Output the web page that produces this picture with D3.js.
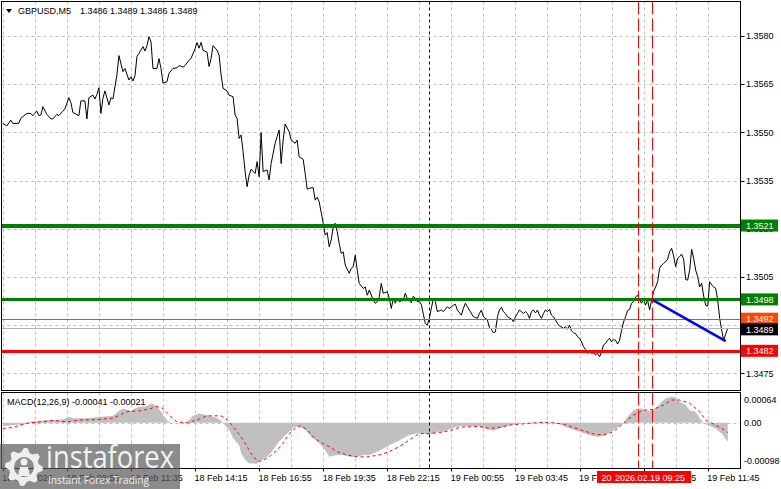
<!DOCTYPE html>
<html><head><meta charset="utf-8">
<script src="https://cdn.jsdelivr.net/npm/d3@7"></script>
<style>
body{margin:0;background:#fff}
svg{display:block}
text{font-family:"Liberation Sans",Arial,sans-serif;font-size:9px}
</style>
</head><body>
<svg id="c" width="781" height="489"></svg>
<script>
// ---------- DATA ----------
const symbolTitle = "GBPUSD,M5";
const ohlcText = "1.3486 1.3489 1.3486 1.3489";
const macdTitle = "MACD(12,26,9) -0.00041 -0.00021";

// bar index (5-minute bars from chart start) and close price
const priceBars = [0,2,4,5,8,9,12,14,15,16,17,18,19,20,22,24,25,27,28,30,31,33,34,35,38,39,41,42,43,45,46,47,48,49,50,51,53,54,55,57,58,60,61,63,64,65,66,67,68,70,71,72,73,74,75,77,78,79,80,82,83,85,87,88,90,91,93,94,96,97,98,99,100,102,103,104,105,107,108,109,110,112,113,115,116,117,118,119,120,121,122,123,
124,126,127,128,129,130,132,133,134,136,137,138,139,140,141,143,144,146,147,148,150,151,152,153,155,156,157,158,160,161,162,163,164,165,166,167,168,169,170,171,173,174,175,176,177,178,180,181,182,183,185,186,187,188,189,190,192,193,194,195,196,197,198,200,201,202,204,205,206,207,208,209,210,211,212,213,214,215,216,217,219,220,222,223,225,226,227,229,230,231,232,233,235,236,237,238,239,240,242,243,
244,245,246,247,248,249,250,251,252,254,255,256,257,258,260,261,262,263,264,265,266,267,268,269,270,271,272,273,274,275,276,277,278,280,281,282,283,284,285,286,287,288,289,290,291,292,293,294,295,296,297,298,299,300,301,302,303,304,305,306,307,308,309,310,311,312,313,314,315,316,317,318,319,320,321,322,323,324,325,326,327,328,329,330,331,332,333,334,335,336,337,338,339,340,341,342,343,344,345,346,347,348,349,350,351,352,353,354,355,356,357,358,359,360,361,362];
const priceCloses = [1.35528,1.35520,1.35538,1.35528,1.35528,1.35544,1.35559,1.35559,1.35552,1.35559,1.35566,1.35552,1.35554,1.35580,1.35556,1.35542,1.35542,1.35556,1.35552,1.35566,1.35573,1.35608,1.35593,1.35562,1.35552,1.35598,1.35598,1.35542,1.35608,1.35616,1.35604,1.35618,1.35639,1.35559,1.35606,1.35629,1.35585,1.35608,1.35604,1.35679,1.35739,1.35689,1.35699,1.35663,1.35673,1.35660,1.35676,1.35736,1.35746,1.35767,1.35753,1.35770,1.35798,1.35782,1.35699,1.35699,1.35730,1.35699,1.35653,1.35658,1.35684,1.35699,1.35701,1.35708,1.35703,1.35708,1.35725,1.35730,1.35760,1.35780,1.35762,1.35780,1.35756,1.35749,1.35705,1.35730,1.35770,1.35756,1.35741,1.35679,1.35637,1.35629,1.35616,1.35611,1.35554,1.35544,1.35481,1.35492,1.35440,1.35378,1.35331,1.35367,
1.35385,1.35372,1.35409,1.35362,1.35499,1.35378,1.35383,1.35352,1.35403,1.35466,1.35487,1.35507,1.35403,1.35476,1.35526,1.35502,1.35476,1.35466,1.35476,1.35424,1.35416,1.35372,1.35323,1.35326,1.35328,1.35289,1.35298,1.35284,1.35217,1.35180,1.35188,1.35144,1.35165,1.35206,1.35217,1.35191,1.35154,1.35123,1.35128,1.35087,1.35061,1.35077,1.35082,1.35118,1.35071,1.35030,1.35014,1.35019,1.34993,1.35009,1.34978,1.34968,1.34973,1.34988,1.35030,1.34999,1.35004,1.34983,1.34952,1.34983,1.34968,1.34983,1.34973,1.34978,1.34999,1.34983,1.34970,1.34990,1.34983,1.34973,1.34973,1.34965,1.34934,1.34905,1.34900,1.34921,1.34952,1.34983,1.34973,1.34942,1.34947,1.34942,1.34957,1.34952,1.34962,1.34965,1.34947,1.34931,1.34952,1.34968,1.34957,1.34947,1.34926,1.34924,1.34921,1.34936,1.34947,1.34926,1.34916,1.34893,
1.34887,1.34876,1.34879,1.34926,1.34947,1.34955,1.34942,1.34936,1.34926,1.34919,1.34910,1.34926,1.34936,1.34947,1.34936,1.34942,1.34936,1.34921,1.34942,1.34947,1.34938,1.34947,1.34931,1.34921,1.34936,1.34947,1.34942,1.34949,1.34931,1.34926,1.34916,1.34905,1.34897,1.34890,1.34895,1.34887,1.34900,1.34882,1.34876,1.34874,1.34864,1.34859,1.34848,1.34833,1.34824,1.34812,1.34820,1.34812,1.34814,1.34807,1.34812,1.34801,1.34817,1.34838,1.34843,1.34853,1.34859,1.34848,1.34855,1.34853,1.34841,1.34853,1.34884,1.34910,1.34926,1.34945,1.34949,1.34968,1.34973,1.34988,1.34993,1.34978,1.34968,1.34980,1.34962,1.34978,1.34947,1.34978,1.35004,1.35019,1.35035,1.35077,1.35087,1.35092,1.35097,1.35105,1.35128,1.35139,1.35115,1.35082,1.35108,1.35113,1.35121,1.35105,1.35042,1.35040,1.35071,1.35136,1.35108,1.35071,1.35051,1.35019,1.35030,1.34990,1.34962,1.34959,1.35035,1.35025,1.35019,1.35014,1.34978,1.34921,1.34884,1.34853,1.34872,1.34890];

// MACD main (histogram) samples
const histBars = [0,5,11,13,19,24,30,33,35,42,49,55,58,60,64,67,72,74,77,79,82,84,87,92,95,98,102,106,109,110,113,115,118,119,121,123,127,128,132,135,138,142,145,148,151,154,158,161,163,167,170,173,177,180,183,187,190,193,197,200,203,207,210,213,217,220,223,227,232,237,241,245,248,253,257,260,267,273,278,283,288,293,297,300,303,307,310,312,315,317,319,322,324,327,329,331,334,336,338,341,343,346,348,350,353,356,359,362];
const histValues = [-0.00007,-0.00005,-0.00003,0.00002,0.00005,0.00006,0.00007,0.00013,0.00010,0.00010,0.00013,0.00015,0.00026,0.00031,0.00026,0.00033,0.00036,0.00042,0.00036,0.00024,0.00005,-0.00001,0.00000,0.00002,0.00015,0.00020,0.00017,0.00012,0.00005,-0.00001,-0.00015,-0.00033,-0.00048,-0.00065,-0.00080,-0.00087,-0.00088,-0.00083,-0.00073,-0.00058,-0.00040,-0.00023,-0.00010,-0.00007,-0.00015,-0.00030,-0.00044,-0.00058,-0.00073,-0.00069,-0.00069,-0.00073,-0.00073,-0.00069,-0.00069,-0.00062,-0.00055,-0.00048,-0.00040,-0.00033,-0.00026,-0.00023,-0.00023,-0.00026,-0.00019,-0.00019,-0.00014,-0.00008,-0.00007,-0.00007,-0.00012,-0.00017,-0.00012,-0.00005,-0.00003,0.00000,0.00001,0.00000,-0.00003,-0.00012,-0.00019,-0.00026,-0.00030,-0.00028,-0.00021,-0.00010,-0.00001,0.00013,0.00027,0.00031,0.00031,0.00026,0.00026,0.00035,0.00045,0.00052,0.00056,0.00055,0.00045,0.00038,0.00027,0.00024,0.00010,-0.00001,-0.00007,-0.00012,-0.00023,-0.00041];

// MACD signal samples
const sigBars = [0,5,12,19,25,32,39,47,55,62,69,74,77,80,84,87,92,97,102,109,112,115,119,122,125,128,130,133,137,140,143,147,149,152,155,158,163,167,172,177,182,188,193,198,203,208,213,218,223,228,233,238,243,248,253,258,263,270,275,280,285,290,295,300,305,310,315,320,325,330,334,338,343,348,351,356,361,362];
const sigValues = [-0.00012,-0.00010,-0.00001,0.00002,0.00005,0.00002,0.00006,0.00007,0.00010,0.00024,0.00026,0.00031,0.00035,0.00031,0.00013,0.00002,0.00000,0.00006,0.00015,0.00015,0.00007,-0.00008,-0.00030,-0.00051,-0.00073,-0.00083,-0.00080,-0.00073,-0.00058,-0.00044,-0.00023,-0.00008,-0.00007,-0.00015,-0.00030,-0.00040,-0.00051,-0.00062,-0.00069,-0.00073,-0.00073,-0.00069,-0.00062,-0.00051,-0.00037,-0.00023,-0.00023,-0.00021,-0.00017,-0.00010,-0.00008,-0.00008,-0.00012,-0.00010,-0.00005,-0.00003,-0.00001,0.00001,0.00000,-0.00003,-0.00010,-0.00017,-0.00024,-0.00026,-0.00019,-0.00001,0.00017,0.00027,0.00029,0.00038,0.00049,0.00049,0.00042,0.00024,0.00006,-0.00005,-0.00017,-0.00021];

const priceTicks = [1.3580,1.3565,1.3550,1.3535,1.3520,1.3505,1.3490,1.3475];
const macdTicks = [0.00064, 0.00, -0.00098];
const macdTickLabels = ["0.00064","0.00","-0.00098"];
const timeTickBars = [0,32,64,96,128,160,192,224,256,288,320,352];
const timeLabels = ["18 Feb 2026","18 Feb 08:55","18 Feb 11:35","18 Feb 14:15","18 Feb 16:55","18 Feb 19:35","18 Feb 22:15","19 Feb 00:55","19 Feb 03:45","19 Feb 06:25","19 Feb 09:05","19 Feb 11:45"];

const levelValues = [1.3521, 1.3498, 1.3492, 1.3489, 1.3482];
const levelLabels = ["1.3521","1.3498","1.3492","1.3489","1.3482"];
const trendBars = [324, 361];
const trendPrices = [1.3498, 1.3485];
const markerBars = [317, 324];
const separatorBar = 213;
const cursorLabel = ["20", "2026.02.19 09:25"];

// ---------- STYLES ----------
const levelColors = ["#008000","#008000","#ff4500","#b4b4b4","#ff0000"];
const levelWidths = [4, 3, 1, 1, 3];
const levelBoxColors = ["#008000","#008000","#ff4500","#000000","#ff0000"];
const GRID = "#c0c0c0";

// ---------- SCALES ----------
const svg = d3.select("#c");
const L = 1.5, R = 740.5, T = 1.5, B = 390.5, ST = 392.5, SB = 468.5;
const x = d3.scaleLinear().domain([0, 352]).range([2.8, 2.8 + 352 * 2.0025]);
const y = d3.scaleLinear().domain([1.3475, 1.3580]).range([373.3, 36]);
const ym = d3.scaleLinear().domain([-0.00098, 0.00064]).range([468.5, 393]);

const gridBars = d3.range(0, 353, 16);

// grids
const g = svg.append("g");
gridBars.forEach(b => {
  const xx = Math.round(x(b)) + 0.5;
  g.append("line").attr("x1", xx).attr("x2", xx).attr("y1", T).attr("y2", B)
    .attr("stroke", GRID).attr("stroke-dasharray", "3,3");
  g.append("line").attr("x1", xx).attr("x2", xx).attr("y1", ST).attr("y2", SB)
    .attr("stroke", GRID).attr("stroke-dasharray", "3,3");
});
priceTicks.forEach(p => {
  const yy = Math.round(y(p)) + 0.5;
  g.append("line").attr("x1", L).attr("x2", R).attr("y1", yy).attr("y2", yy)
    .attr("stroke", GRID).attr("stroke-dasharray", "3,3");
});
// MACD zero line
g.append("line").attr("x1", L).attr("x2", R).attr("y1", Math.round(ym(0)) + 0.5).attr("y2", Math.round(ym(0)) + 0.5)
  .attr("stroke", GRID).attr("stroke-dasharray", "3,3");

// MACD histogram
const histData = histBars.map((b, i) => ({b, v: histValues[i]}));
svg.append("path").datum(histData)
  .attr("d", d3.area().x(d => x(d.b)).y0(ym(0)).y1(d => ym(d.v)))
  .attr("fill", "#c0c0c0");
// MACD signal
const sigData = sigBars.map((b, i) => ({b, v: sigValues[i]}));
svg.append("path").datum(sigData)
  .attr("d", d3.line().x(d => x(d.b)).y(d => ym(d.v)))
  .attr("fill", "none").attr("stroke", "#ff0000").attr("stroke-width", 1).attr("stroke-dasharray", "3,3");

// separator and markers
const sx = Math.round(x(separatorBar)) + 0.5;
[[T, B], [ST, SB]].forEach(([a, b]) => {
  svg.append("line").attr("x1", sx).attr("x2", sx).attr("y1", a).attr("y2", b)
    .attr("stroke", "#000").attr("stroke-dasharray", "3,3");
});

// price line
const priceData = priceBars.map((b, i) => ({b, p: priceCloses[i]}));
svg.append("path").datum(priceData)
  .attr("d", d3.line().x(d => x(d.b)).y(d => y(d.p)))
  .attr("fill", "none").attr("stroke", "#000").attr("stroke-width", 1);

// levels
levelValues.forEach((v, i) => {
  const w = levelWidths[i];
  const yy = w % 2 ? Math.round(y(v)) + 0.5 : Math.round(y(v));
  svg.append("line").attr("x1", L).attr("x2", R).attr("y1", yy).attr("y2", yy)
    .attr("stroke", levelColors[i]).attr("stroke-width", w);
});

// trend line
svg.append("line")
  .attr("x1", x(trendBars[0])).attr("y1", y(trendPrices[0]))
  .attr("x2", x(trendBars[1])).attr("y2", y(trendPrices[1]))
  .attr("stroke", "#0000ff").attr("stroke-width", 2.5);

// red vertical markers
markerBars.forEach(b => {
  const xx = Math.round(x(b)) + 0.5;
  svg.append("line").attr("x1", xx).attr("x2", xx).attr("y1", T).attr("y2", SB)
    .attr("stroke", "#ff0000").attr("stroke-width", 1).attr("stroke-dasharray", "13,4");
});

// frames
svg.append("rect").attr("x", L).attr("y", T).attr("width", R - L).attr("height", B - T)
  .attr("fill", "none").attr("stroke", "#000");
svg.append("rect").attr("x", L).attr("y", ST).attr("width", R - L).attr("height", SB - ST)
  .attr("fill", "none").attr("stroke", "#000");

// right price axis
priceTicks.forEach(p => {
  const yy = Math.round(y(p)) + 0.5;
  svg.append("line").attr("x1", R).attr("x2", R + 4).attr("y1", yy).attr("y2", yy).attr("stroke", "#000");
  svg.append("text").attr("x", 746).attr("y", y(p) + 3.3).attr("fill", "#000").text(p.toFixed(4));
});
levelValues.forEach((v, i) => {
  if (i === 3) return;
  const yy = y(v);
  svg.append("rect").attr("x", 741).attr("y", yy - 6).attr("width", 37).attr("height", 12).attr("fill", levelBoxColors[i]);
  svg.append("text").attr("x", 746).attr("y", yy + 3.3).attr("fill", "#fff").text(levelLabels[i]);
});
{
  const yy = y(levelValues[3]) + 1;
  svg.append("rect").attr("x", 741).attr("y", yy - 6).attr("width", 37).attr("height", 12).attr("fill", levelBoxColors[3]);
  svg.append("text").attr("x", 746).attr("y", yy + 3.3).attr("fill", "#fff").text(levelLabels[3]);
}

// MACD axis
macdTicks.forEach((v, i) => {
  const yy = ym(v);
  const off = i === 0 ? 9.5 : (i === 1 ? 3.5 : -4.5);
  svg.append("text").attr("x", 744).attr("y", yy + off).attr("fill", "#000").text(macdTickLabels[i]);
});

// time axis
timeTickBars.forEach((b, i) => {
  const xx = Math.round(x(b)) + 0.5;
  svg.append("line").attr("x1", xx).attr("x2", xx).attr("y1", SB).attr("y2", SB + 3).attr("stroke", "#000");
  svg.append("text").attr("x", x(b) - 0.5).attr("y", 480.5).attr("fill", "#000").text(timeLabels[i]);
});

// cursor date label
svg.append("rect").attr("x", 597).attr("y", 471).attr("width", 94).attr("height", 12).attr("fill", "#ff0000");
svg.append("text").attr("x", 601.5).attr("y", 480.5).attr("fill", "#fff").text(cursorLabel[0]);
svg.append("text").attr("x", 615).attr("y", 480.5).attr("fill", "#fff").text(cursorLabel[1]);

// titles
svg.append("path").attr("d", "M6,9 L12,9 L9,13 Z").attr("fill", "#000");
svg.append("text").attr("x", 18).attr("y", 14).attr("fill", "#000").text(symbolTitle);
svg.append("text").attr("x", 80).attr("y", 14).attr("fill", "#000").text(ohlcText);
svg.append("text").attr("x", 7).attr("y", 405).attr("fill", "#000").text(macdTitle);

// logo
const lg = svg.append("g");
lg.append("rect").attr("x", 0).attr("y", 444).attr("width", 180).attr("height", 45).attr("fill", "rgba(90,90,90,0.7)");
const cx = 24, cy = 467, ro = 19, ri = 15;
let pts = [];
const teeth = 8;
for (let k = 0; k < teeth * 4; k++) {
  const a = (k / (teeth * 4)) * Math.PI * 2 - Math.PI / 2;
  const r = (k % 4 === 0 || k % 4 === 1) ? ro : ri;
  pts.push([cx + r * Math.cos(a), cy + r * Math.sin(a)]);
}
lg.append("path").attr("d", "M" + pts.map(p => p.join(",")).join("L") + "Z M" + (cx + 10) + "," + cy +
  " A10,10 0 1,0 " + (cx - 10) + "," + cy + " A10,10 0 1,0 " + (cx + 10) + "," + cy + "Z")
  .attr("fill", "#eeeeee").attr("fill-rule", "evenodd");
lg.append("circle").attr("cx", cx).attr("cy", cy - 5).attr("r", 3.5).attr("fill", "#eeeeee");
lg.append("path").attr("d", `M${cx-6},${cy+9} L${cx-4},${cy} L${cx+4},${cy} L${cx+6},${cy+9} Z`).attr("fill", "#eeeeee");
lg.append("text").attr("x", 46).attr("y", 468).attr("fill", "#f2f2f2")
  .style("font-family", "'Open Sans',sans-serif").style("font-size", "31px")
  .attr("textLength", 128).attr("lengthAdjust", "spacingAndGlyphs").text("instaforex");
lg.append("text").attr("x", 48).attr("y", 484).attr("fill", "#eeeeee")
  .style("font-family", "'Open Sans',sans-serif").style("font-size", "11px")
  .attr("textLength", 101).attr("lengthAdjust", "spacingAndGlyphs").text("Instant Forex Trading");
</script>
</body></html>
